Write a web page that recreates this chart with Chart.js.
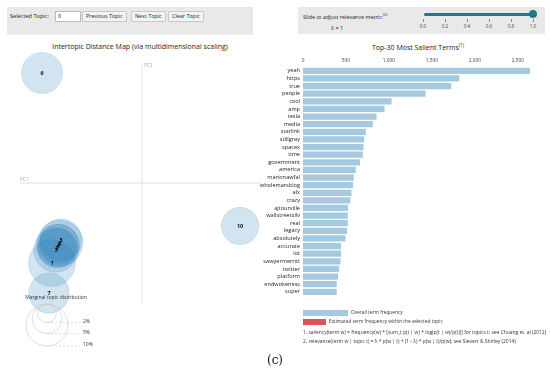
<!DOCTYPE html>
<html>
<head>
<meta charset="utf-8">
<script src="https://cdn.jsdelivr.net/npm/chart.js@4.4.1/dist/chart.umd.min.js"></script>
<style>
  body { margin: 0; width: 550px; height: 377px; background: #fff; font-family: "Open Sans", sans-serif; position: relative; overflow: hidden; }
  .abs { position: absolute; white-space: nowrap; }
  .panel { position: absolute; background: #e9e9e9; }
  .btn { position: absolute; top: 4px; height: 9px; line-height: 9px; font-size: 5.4px; background: #f3f3f3; border: 1px solid #c8c8c8; border-radius: 1px; padding: 0 3px; color: #222; }
  .title { font-size: 7px; color: #222; text-align: center; }
  .tick { font-size: 4.6px; color: #444; }
  .note { font-size: 4.8px; color: #333; }
</style>
</head>
<body>
<div class="panel" style="left:7px;top:7px;width:246px;height:28px;">
  <div class="abs" style="left:3px;top:5px;font-size:5.6px;color:#222;">Selected Topic:</div>
  <div class="abs" style="left:48px;top:4px;width:22px;height:9px;background:#fff;border:1px solid #bbb;font-size:5.4px;line-height:9px;padding-left:2px;">0</div>
  <div class="btn" style="left:75px;">Previous Topic</div>
  <div class="btn" style="left:124px;">Next Topic</div>
  <div class="btn" style="left:161px;">Clear Topic</div>
</div>
<div class="panel" style="left:298px;top:7px;width:247px;height:27px;">
  <div class="abs" style="left:5px;top:5px;font-size:5.4px;color:#222;">Slide to adjust relevance metric:<sup style="font-size:3.8px;">(2)</sup></div>
  <div class="abs" style="left:33px;top:17px;font-size:5.6px;color:#222;">λ = 1</div>
  <div class="abs" style="left:126px;top:5.5px;width:109px;height:3px;border-radius:2px;background:#1f7a86;"></div>
  <div class="abs" style="left:231px;top:3px;width:8px;height:8px;border-radius:50%;background:#1f7a86;"></div>
  <div id="sl"></div>
</div>
<div class="abs title" style="left:0;top:42px;width:280px;">Intertopic Distance Map (via multidimensional scaling)</div>
<div class="abs title" style="left:290px;top:42px;width:256px;">Top-30 Most Salient Terms<sup style="font-size:4.5px;">(1)</sup></div>

<div class="abs" style="left:0;top:50px;width:285px;height:310px;"><canvas id="map"></canvas></div>
<div class="abs" style="left:255px;top:50px;width:290px;height:252px;"><canvas id="bars"></canvas></div>

<div class="abs" style="left:303px;top:310px;width:45px;height:6px;background:#a5c9e1;"></div>
<div class="abs note" style="left:351px;top:309px;">Overall term frequency</div>
<div class="abs" style="left:303px;top:319px;width:23px;height:6px;background:#de5253;"></div>
<div class="abs note" style="left:329px;top:318px;">Estimated term frequency within the selected topic</div>
<div class="abs note" style="left:303px;top:329px;font-size:4.95px;">1. saliency(term w) = frequency(w) * [sum_t p(t | w) * log(p(t | w)/p(t))] for topics t; see Chuang et. al (2012)</div>
<div class="abs note" style="left:303px;top:338px;font-size:4.95px;">2. relevance(term w | topic t) = λ * p(w | t) + (1 - λ) * p(w | t)/p(w); see Sievert &amp; Shirley (2014)</div>
<div class="abs" style="left:0;top:353px;width:550px;text-align:center;font-family:'DejaVu Serif',serif;font-size:12px;color:#111;">(c)</div>

<script>
// ---------- data ----------
const topicIds = [1, 2, 3, 4, 5, 6, 7, 8, 9, 10];
const topicPC1 = [-0.75, -0.683, -0.717, -0.70, -0.675, -0.833, -0.775, -0.692, -0.708, 0.817];
const topicPC2 = [-0.667, -0.5, -0.558, -0.525, -0.475, 0.917, -0.917, -0.508, -0.542, -0.358];
const topicPct = [12.5, 11.8, 11.2, 10.6, 10.1, 9.6, 9.2, 8.7, 8.4, 7.9];
const legendPct = [2, 5, 10];

const terms = ["yeah", "https", "true", "people", "cool", "amp", "tesla", "media", "starlink", "stillgray",
  "spacex", "time", "government", "america", "marionawfal", "wholemarsblog", "alx", "crazy", "ajtourville",
  "wallstreetsilv", "real", "legacy", "absolutely", "accurate", "lot", "sawyermerritt", "twitter", "platform",
  "endwokeness", "super"];
const termFreq = [2643, 1819, 1726, 1427, 1031, 949, 856, 813, 731, 712,
  704, 696, 664, 614, 591, 583, 564, 552, 525,
  521, 521, 513, 494, 443, 443, 436, 420, 408,
  393, 393];
const freqTicks = [0, 500, 1000, 1500, 2000, 2500];
const sliderTicks = ["0.0", "0.2", "0.4", "0.6", "0.8", "1.0"];

const radiusFor = (p) => 6.64 * Math.sqrt(p);

// slider tick labels
const sl = document.getElementById("sl");
sliderTicks.forEach((t, i) => {
  const x = 125 + i * 22;
  sl.insertAdjacentHTML("beforeend",
    `<div class="abs" style="left:${x}px;top:12px;width:1px;height:3px;background:#888;"></div>` +
    `<div class="abs tick" style="left:${x - 6}px;top:16px;width:12px;text-align:center;">${t}</div>`);
});

// ---------- intertopic map ----------
const mapDecor = {
  id: "mapDecor",
  beforeDatasetsDraw(chart) {
    const { ctx, chartArea: a, scales } = chart;
    const x0 = scales.x.getPixelForValue(0);
    const y0 = scales.y.getPixelForValue(0);
    ctx.save();
    ctx.strokeStyle = "#e2e2e2";
    ctx.lineWidth = 1;
    ctx.beginPath();
    ctx.moveTo(x0, a.top); ctx.lineTo(x0, a.bottom);
    ctx.moveTo(a.left - 2, y0); ctx.lineTo(a.right, y0);
    ctx.stroke();
    ctx.fillStyle = "#aaa";
    ctx.font = "4.6px 'Open Sans'";
    ctx.textBaseline = "bottom";
    ctx.fillText("PC1", a.left - 2, y0 - 1);
    ctx.textBaseline = "top";
    ctx.fillText("PC2", x0 + 2, a.top);
    ctx.restore();
  },
  afterDatasetsDraw(chart) {
    const { ctx, chartArea: a } = chart;
    ctx.save();
    ctx.fillStyle = "#111";
    ctx.font = "bold 5.5px 'Open Sans'";
    ctx.textAlign = "center";
    ctx.textBaseline = "middle";
    chart.getDatasetMeta(0).data.forEach((el, i) => ctx.fillText(String(topicIds[i]), el.x, el.y));
    // size legend
    const cx = a.left + 25, top = a.bottom + 1;
    ctx.fillStyle = "#333";
    ctx.font = "5px 'Open Sans'";
    ctx.fillText("Marginal topic distribution", cx + 9, a.bottom - 5);
    ctx.strokeStyle = "#c8c8c8";
    ctx.lineWidth = 0.6;
    legendPct.forEach((p) => {
      const r = radiusFor(p);
      ctx.setLineDash([]);
      ctx.beginPath();
      ctx.arc(cx, top + r, r, 0, Math.PI * 2);
      ctx.stroke();
      ctx.setLineDash([2, 2]);
      ctx.beginPath();
      ctx.moveTo(cx, top + 2 * r); ctx.lineTo(cx + 33, top + 2 * r);
      ctx.stroke();
      ctx.textAlign = "left";
      ctx.fillText(p + "%", cx + 36, top + 2 * r - 1);
    });
    ctx.restore();
  },
};

new Chart(document.getElementById("map"), {
  type: "bubble",
  data: {
    datasets: [{
      data: topicIds.map((t, i) => ({ x: topicPC1[i], y: topicPC2[i], r: radiusFor(topicPct[i]) })),
      backgroundColor: "rgba(31,119,180,0.2)",
      borderColor: "rgba(31,119,180,0.25)",
      borderWidth: 0.6,
      clip: false,
    }],
  },
  options: {
    animation: false,
    responsive: true,
    maintainAspectRatio: false,
    layout: { autoPadding: false, padding: { left: 22, right: 23, top: 13, bottom: 57 } },
    plugins: { legend: { display: false }, tooltip: { enabled: false } },
    scales: {
      x: { display: false, min: -1, max: 1 },
      y: { display: false, min: -1, max: 1 },
    },
  },
  plugins: [mapDecor],
});

// ---------- salient terms ----------
new Chart(document.getElementById("bars"), {
  type: "bar",
  data: {
    labels: terms,
    datasets: [{ data: termFreq, backgroundColor: "#a5c9e1", barPercentage: 0.82, categoryPercentage: 1 }],
  },
  options: {
    indexAxis: "y",
    animation: false,
    responsive: true,
    maintainAspectRatio: false,
    layout: { padding: { right: 10 } },
    plugins: { legend: { display: false }, tooltip: { enabled: false } },
    scales: {
      x: {
        position: "top",
        min: 0,
        max: 2700,
        // the auto tick limit would pick a 540 step here, so pin the ticks
        afterBuildTicks: (s) => { s.ticks = freqTicks.map((v) => ({ value: v })); },
        afterFit: (s) => { s.height = 17; },
        ticks: {
          autoSkip: false,
          maxRotation: 0,
          color: "#444",
          font: { size: 4.8, family: "Open Sans" },
          padding: 3,
        },
        grid: { display: false, drawTicks: false },
        border: { display: false },
      },
      y: {
        afterFit: (s) => { s.width = 48; },
        ticks: { color: "#222", font: { size: 5.6, family: "Open Sans" }, padding: 3, autoSkip: false },
        grid: { display: false, drawTicks: false },
        border: { display: false },
      },
    },
  },
});
</script>
</body>
</html>
